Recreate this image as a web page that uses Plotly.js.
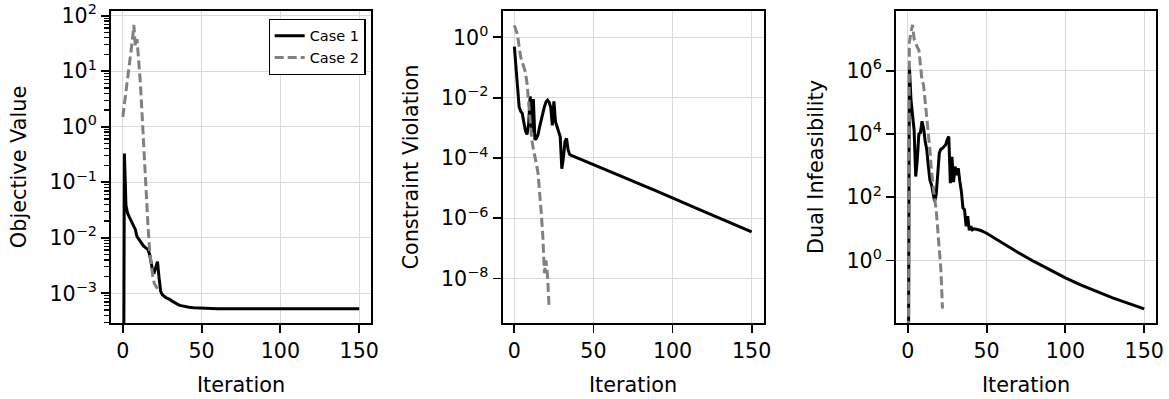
<!DOCTYPE html>
<html>
<head>
<meta charset="utf-8">
<script src="https://cdn.plot.ly/plotly-3.0.1.min.js"></script>
<style>
  html, body { margin: 0; padding: 0; background: #fff; }
  #chart { width: 1169px; height: 399px; }
</style>
</head>
<body>
<div id="chart"></div>
<script>
// ---------------- data ----------------
const seriesNames = ["Case 1", "Case 2"];
const panelTitles = ["Objective Value", "Constraint Violation", "Dual Infeasibility"];
const xTickVals = [0, 50, 100, 150];
const xTickText = ["0", "50", "100", "150"];

// Case 2 iterations (shared by all panels)
const case2Iter = [0,1,2,3,4,5,6,7,8,9,10,11,12,13,14,15,16,17,18,19,20,21,22];

// Panel 1: Objective Value
const objIterCase1 = [0,1,2,3,4,5,6,7,8,9,10,11,12,13,14,15,16,17,18,19,20,21,22,23,24,25,26,27,28,29,30,31,32,33,34,35,36,37,38,39,40,42,45,50,55,60,80,100,120,150];
const objCase1 = [1e-10,0.33,0.038,0.028,0.024,0.021,0.019,0.017,0.014,0.0105,0.0095,0.0088,0.0078,0.0072,0.0068,0.0065,0.0061,0.005,0.0035,0.0025,0.0024,0.003,0.0037,0.0019,0.0011,0.00095,0.00088,0.00085,0.00082,0.0008,0.00077,0.00073,0.0007,0.00067,0.00065,0.00063,0.00061,0.0006,0.00059,0.00058,0.00057,0.00056,0.00055,0.00054,0.00053,0.000528,0.000528,0.000528,0.000528,0.000528];
const objCase2 = [1.5,2.5,4,6.5,11,20,35,68,28,38,17,7,2.2,0.6,0.16,0.04,0.016,0.006,0.003,0.002,0.0015,0.0013,0.0012];

// Panel 2: Constraint Violation
const conIterCase1 = [0,1,2,3,4,5,6,7,8,9,10,11,12,13,14,15,16,17,18,19,20,21,22,23,24,25,26,27,28,29,30,31,32,33,34,35,36,60,90,120,150];
const conCase1 = [0.49,0.12,0.02,0.005,0.0035,0.003,0.0015,0.0008,0.0006,0.0013,0.011,0.0007,0.009,0.0004,0.00045,0.0006,0.0011,0.002,0.0032,0.005,0.0072,0.0083,0.007,0.0048,0.0012,0.0075,0.0016,0.0011,0.0007,0.0005,4.4e-5,0.0001,0.00035,0.00044,0.00018,0.00013,0.000122,3.7e-5,7.9e-6,1.66e-6,3.5e-7];
const conCase2 = [2.5,1.8,1.2,0.5,0.22,0.15,0.1,0.07,0.03,0.006,0.0012,0.0004,0.0002,0.00012,6e-5,3e-5,8e-6,1.5e-6,2.5e-7,1.5e-8,4e-8,1.2e-8,1e-9];

// Panel 3: Dual Infeasibility
const dualIterCase1 = [0,1,2,3,4,5,6,7,8,9,10,11,12,13,14,15,16,17,18,19,20,21,22,23,24,25,26,27,28,29,30,31,32,33,34,35,36,37,38,39,40,41,42,44,46,50,60,70,80,90,100,110,120,130,140,150];
const dualCase1 = [1e-10,1.3e6,1.2e5,2.8e4,1.3e4,450,1500,1e4,1.1e4,2.5e4,1.5e4,6000,3200,1000,350,250,120,74,120,700,2500,3300,3500,4000,4500,6500,8300,275,1900,300,930,500,830,315,150,45,40,12,25,9,12,9.3,10,9.5,9.0,7.24,3.55,1.78,0.93,0.5,0.28,0.166,0.102,0.066,0.044,0.0295];
const dualCase2 = [1e-10,8e6,1.6e7,2.8e7,1e7,7e6,5.5e6,4.5e6,1.5e6,5e5,3.5e5,1.2e5,3.5e4,1e4,3200,700,200,90,40,8,2.5,0.5,0.03];

// y tick labels per panel
const objTickVals = [1e-3, 1e-2, 1e-1, 1, 10, 100];
const objTickText = ["10<sup>\u22123</sup>", "10<sup>\u22122</sup>", "10<sup>\u22121</sup>", "10<sup>0</sup>", "10<sup>1</sup>", "10<sup>2</sup>"];
const conTickVals = [1e-8, 1e-6, 1e-4, 1e-2, 1];
const conTickText = ["10<sup>\u22128</sup>", "10<sup>\u22126</sup>", "10<sup>\u22124</sup>", "10<sup>\u22122</sup>", "10<sup>0</sup>"];
const dualTickVals = [1, 100, 1e4, 1e6];
const dualTickText = ["10<sup>0</sup>", "10<sup>2</sup>", "10<sup>4</sup>", "10<sup>6</sup>"];

// ---------------- styling ----------------
const W = 1169, H = 399;
const FONT = "DejaVu Sans, sans-serif";
const TICK_SIZE = 20.6;
const TITLE_SIZE = 20.8;
const c1Line = { color: "#000000", width: 3 };
const c2Line = { color: "#808080", width: 3, dash: "9px,4px" };

// minor log ticks for panel 1 (axis decoration)
const objMinor = [];
for (let e = -4; e <= 2; e++) {
  for (let k = 2; k <= 9; k++) objMinor.push(k * Math.pow(10, e));
}

const traces = [
  { x: objIterCase1, y: objCase1, name: seriesNames[0], mode: "lines", line: c1Line, xaxis: "x", yaxis: "y", showlegend: true },
  { x: case2Iter, y: objCase2, name: seriesNames[1], mode: "lines", line: c2Line, xaxis: "x", yaxis: "y", showlegend: true },
  { x: conIterCase1, y: conCase1, name: seriesNames[0], mode: "lines", line: c1Line, xaxis: "x2", yaxis: "y2", showlegend: false },
  { x: case2Iter, y: conCase2, name: seriesNames[1], mode: "lines", line: c2Line, xaxis: "x2", yaxis: "y2", showlegend: false },
  { x: dualIterCase1, y: dualCase1, name: seriesNames[0], mode: "lines", line: c1Line, xaxis: "x3", yaxis: "y3", showlegend: false },
  { x: case2Iter, y: dualCase2, name: seriesNames[1], mode: "lines", line: c2Line, xaxis: "x3", yaxis: "y3", showlegend: false }
];

const yDom = [1 - 323 / H, 1 - 11 / H];
const xDoms = [[111 / W, 371 / W], [502.5 / W, 763.5 / W], [896 / W, 1156 / W]];

function xAxis(i) {
  return {
    domain: xDoms[i], range: [-7.5, 157.5], anchor: i === 0 ? "y" : "y" + (i + 1),
    tickmode: "array", tickvals: xTickVals, ticktext: xTickText,
    ticks: "outside", ticklen: 8, tickwidth: 1.8, tickcolor: "#000",
    showline: true, linecolor: "#000", linewidth: 2, mirror: true,
    showgrid: true, gridcolor: "#d9d9d9", gridwidth: 1, zeroline: false,
    tickfont: { family: FONT, size: TICK_SIZE, color: "#000" },
    title: { text: "Iteration", font: { family: FONT, size: TITLE_SIZE, color: "#000" }, standoff: 16 },
    automargin: false
  };
}
function yAxis(i, range, tv, tt, minor) {
  const a = {
    domain: yDom, type: "log", range: range, anchor: i === 0 ? "x" : "x" + (i + 1),
    tickmode: "array", tickvals: tv, ticktext: tt,
    ticks: "outside", ticklen: 8, tickwidth: 1.8, tickcolor: "#000",
    showline: true, linecolor: "#000", linewidth: 2, mirror: true,
    showgrid: true, gridcolor: "#d9d9d9", gridwidth: 1, zeroline: false,
    tickfont: { family: FONT, size: TICK_SIZE, color: "#000" },
    title: { text: panelTitles[i], font: { family: FONT, size: TITLE_SIZE, color: "#000" }, standoff: 17 },
    automargin: false
  };
  if (minor) {
    a.minor = { tickmode: "array", tickvals: minor, ticks: "outside", ticklen: 5, tickwidth: 1.3, tickcolor: "#000", showgrid: false };
  }
  return a;
}

const layout = {
  width: W, height: H,
  margin: { l: 0, r: 0, t: 0, b: 0 },
  paper_bgcolor: "#fff", plot_bgcolor: "#fff",
  font: { family: FONT, color: "#000" },
  xaxis: xAxis(0), xaxis2: xAxis(1), xaxis3: xAxis(2),
  yaxis: yAxis(0, [-3.535, 2.085], objTickVals, objTickText, objMinor),
  yaxis2: yAxis(1, [-9.475, 0.874], conTickVals, conTickText, null),
  yaxis3: yAxis(2, [-1.977, 7.885], dualTickVals, dualTickText, null),
  legend: {
    x: 365.5 / W, xanchor: "right", y: 1 - 18.5 / H, yanchor: "top",
    bordercolor: "#000", borderwidth: 1.2, bgcolor: "#fff",
    font: { family: FONT, size: 14.5, color: "#000" },
    tracegroupgap: 0
  },
  showlegend: true
};

Plotly.newPlot("chart", traces, layout, { staticPlot: true, displayModeBar: false });
</script>
</body>
</html>
